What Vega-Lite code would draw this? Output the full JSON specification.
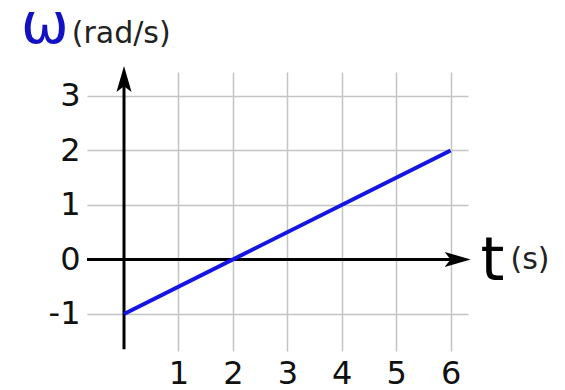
{
  "$schema": "https://vega.github.io/schema/vega-lite/v6.json",
  "autosize": "none",
  "width": 381,
  "height": 279,
  "padding": {"left": 87, "top": 72, "right": 97, "bottom": 39},
  "background": "white",
  "config": {"view": {"stroke": null}, "font": "DejaVu Sans"},
  "layer": [
    {
      "data": {"values": [
        {"x1": -0.68, "x2": 6.2, "y1": 0, "y2": 0},
        {"x1": 0, "x2": 0, "y1": -1.65, "y2": 3.3}
      ]},
      "mark": {"type": "rule", "color": "black", "strokeWidth": 3},
      "encoding": {
        "x": {"field": "x1", "type": "quantitative",
          "scale": {"domain": [-0.68, 6.32], "nice": false, "zero": false},
          "axis": {"values": [1, 2, 3, 4, 5, 6], "grid": true, "domain": false, "ticks": false,
            "gridColor": "#c4c4c4", "gridWidth": 1.5, "labelFontSize": 32, "labelColor": "#111111",
            "labelFont": "DejaVu Sans", "labelPadding": 7, "labelExpr": "'' + datum.value", "title": null}},
        "x2": {"field": "x2"},
        "y": {"field": "y1", "type": "quantitative",
          "scale": {"domain": [-1.68, 3.44], "nice": false, "zero": false},
          "axis": {"values": [-1, 0, 1, 2, 3], "grid": true, "domain": false, "ticks": false,
            "gridColor": "#c4c4c4", "gridWidth": 1.5, "labelFontSize": 32, "labelColor": "#111111",
            "labelFont": "DejaVu Sans", "labelPadding": 7, "labelExpr": "'' + datum.value", "title": null}},
        "y2": {"field": "y2"}
      }
    },
    {
      "data": {"values": [
        {"x": 0, "y": 3.31, "dir": "up"},
        {"x": 6.13, "y": 0, "dir": "right"}
      ]},
      "mark": {"type": "point", "filled": true, "color": "black", "opacity": 1, "size": 676},
      "encoding": {
        "x": {"field": "x", "type": "quantitative"},
        "y": {"field": "y", "type": "quantitative"},
        "shape": {"field": "dir", "type": "nominal", "legend": null,
          "scale": {"domain": ["up", "right"],
            "range": ["M0,-1L0.58,1L0,0.55L-0.58,1Z", "M1,0L-1,0.58L-0.55,0L-1,-0.58Z"]}}
      }
    },
    {
      "data": {"values": [{"t": 0, "w": -1}, {"t": 6, "w": 2}]},
      "mark": {"type": "line", "color": "#1414e6", "strokeWidth": 4},
      "encoding": {
        "x": {"field": "t", "type": "quantitative"},
        "y": {"field": "w", "type": "quantitative"}
      }
    },
    {
      "data": {"values": [{"x": -1.454, "y": 3.97, "label": "ω"}]},
      "mark": {"type": "text", "color": "#1212c4", "fontSize": 57, "font": "DejaVu Sans", "align": "center", "baseline": "alphabetic"},
      "encoding": {
        "x": {"field": "x", "type": "quantitative"},
        "y": {"field": "y", "type": "quantitative"},
        "text": {"field": "label"}
      }
    },
    {
      "data": {"values": [{"x": 6.55, "y": -0.376, "label": "t"}]},
      "mark": {"type": "text", "color": "black", "fontSize": 61, "font": "DejaVu Sans", "align": "left", "baseline": "alphabetic"},
      "encoding": {
        "x": {"field": "x", "type": "quantitative"},
        "y": {"field": "y", "type": "quantitative"},
        "text": {"field": "label"}
      }
    },
    {
      "data": {"values": [
        {"x": -0.96, "y": 3.97, "label": "(rad/s)"},
        {"x": 7.1, "y": -0.174, "label": "(s)"}
      ]},
      "mark": {"type": "text", "color": "#222222", "fontSize": 30, "font": "DejaVu Sans", "align": "left", "baseline": "alphabetic"},
      "encoding": {
        "x": {"field": "x", "type": "quantitative"},
        "y": {"field": "y", "type": "quantitative"},
        "text": {"field": "label"}
      }
    }
  ]
}
